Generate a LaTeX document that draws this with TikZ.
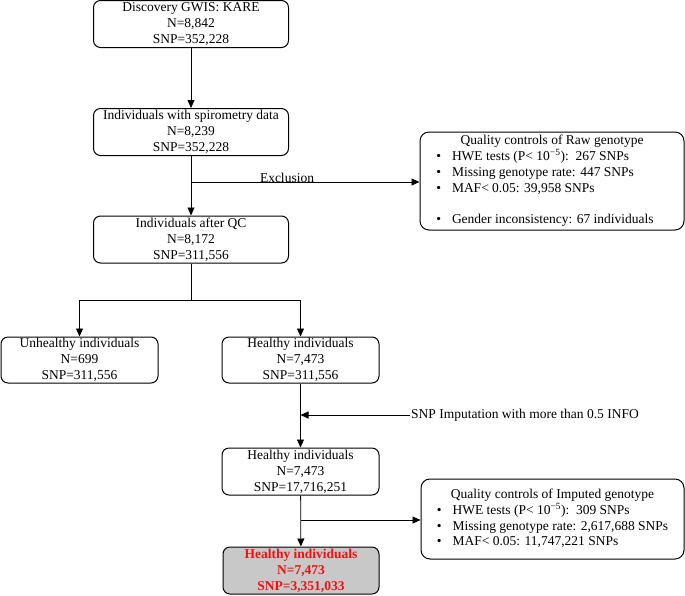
\documentclass[tikz,border=0pt]{standalone}
\usepackage{fontspec}
\setmainfont{Liberation Serif}
\usetikzlibrary{arrows.meta}
\definecolor{finalgray}{HTML}{C8C8C8}
\definecolor{finalred}{HTML}{F01010}
\begin{document}
\begin{tikzpicture}[x=1pt,y=-1pt,
  box/.style={draw, line width=1pt, rounded corners=7pt, align=center, inner sep=0pt,
    font=\fontsize{13.5}{16}\selectfont},
  qcbox/.style={draw, line width=1pt, rounded corners=9pt, inner sep=0pt,
    font=\fontsize{13.5}{15.6}\selectfont},
  conn/.style={line width=0.8pt},
  arr/.style={conn, -{Triangle[length=8pt,width=7pt]}},
  lbl/.style={font=\fontsize{13.5}{16}\selectfont, inner sep=1pt}
]
\useasboundingbox (0,0) rectangle (685,595);

\node[box, minimum width=195pt, minimum height=47pt] (b1) at (191,24) {Discovery GWIS: KARE\\N=8,842\\SNP=352,228};
\node[box, minimum width=195pt, minimum height=47pt] (b2) at (191,132) {Individuals with spirometry data\\N=8,239\\SNP=352,228};
\node[box, minimum width=195pt, minimum height=47pt] (b3) at (191,239.5) {Individuals after QC\\N=8,172\\SNP=311,556};
\node[box, minimum width=157pt, minimum height=46pt] (u) at (79.5,360) {Unhealthy individuals\\N=699\\SNP=311,556};
\node[box, minimum width=157pt, minimum height=46pt] (h1) at (300.5,360) {Healthy individuals\\N=7,473\\SNP=311,556};
\node[box, minimum width=157pt, minimum height=47pt] (h2) at (300.5,471.5) {Healthy individuals\\N=7,473\\SNP=17,716,251};
\node[box, fill=finalgray, text=finalred, minimum width=156pt, minimum height=47pt, font=\fontsize{13.5}{16}\selectfont\bfseries] (f) at (301,570.5) {Healthy individuals\\N=7,473\\SNP=3,351,033};

\node[qcbox, minimum width=264pt, minimum height=98pt] (raw) at (552,181) {%
\begin{tabular}{@{}c@{\hspace{11pt}}l@{\hspace{14pt}}}
\multicolumn{2}{c}{Quality controls of Raw genotype}\\
\textbullet & HWE tests (P< 10\textsuperscript{−5}):\ \ 267 SNPs\\
\textbullet & Missing genotype rate: 447 SNPs\\
\textbullet & MAF< 0.05: 39,958 SNPs\\
 & \\
\textbullet & Gender inconsistency: 67 individuals
\end{tabular}};

\node[qcbox, minimum width=263pt, minimum height=80pt] (imp) at (552.5,519) {%
\begin{tabular}{@{}c@{\hspace{11pt}}l@{}}
\multicolumn{2}{c}{Quality controls of Imputed genotype}\\
\textbullet & HWE tests (P< 10\textsuperscript{−5}):\ \ 309 SNPs\\
\textbullet & Missing genotype rate: 2,617,688 SNPs\\
\textbullet & MAF< 0.05: 11,747,221 SNPs
\end{tabular}};

\draw[arr] (b1) -- (b2);
\draw[arr] (b2) -- (b3);
\coordinate (ex) at (191,182);
\draw[arr] (ex) -- (ex -| raw.west);
\node[lbl, anchor=base] (exl) at (287,182.5) {Exclusion};

\coordinate (sp) at (191,300);
\draw[conn] (b3) -- (sp);
\draw[arr] (sp) -| (u.north);
\draw[arr] (sp) -| (h1.north);

\draw[arr] (h1) -- (h2);
\coordinate (im) at (410,415);
\draw[arr] (im) -- (im -| h1.south);
\node[lbl, anchor=west] (iml) at (im) {SNP Imputation with more than 0.5 INFO};

\draw[arr] (h2) -- (f);
\coordinate (br) at (300.5,520);
\draw[arr] (br) -- (br -| imp.west);
\end{tikzpicture}
\end{document}
